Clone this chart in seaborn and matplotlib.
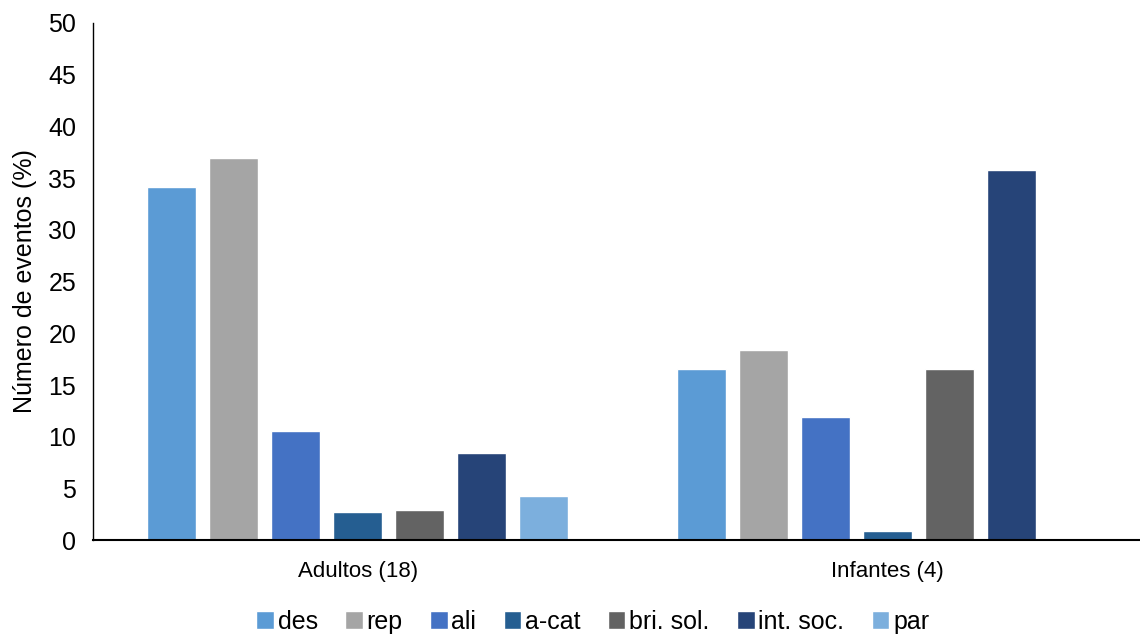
import numpy as np
import pandas as pd
import seaborn as sns
import matplotlib.pyplot as plt
from matplotlib.patches import Patch

# Datos
grupos = ["Adultos (18)", "Infantes (4)"]
categorias = ["des", "rep", "ali", "a-cat", "bri. sol.", "int. soc.", "par"]
adultos = [34.1, 36.9, 10.6, 2.7, 2.9, 8.4, 4.3]
infantes = [16.5, 18.4, 11.9, 0.9, 16.5, 35.8, np.nan]
colores = ["#5B9BD5", "#A5A5A5", "#4472C4", "#255E91", "#636363", "#264478", "#7CAFDD"]

df = pd.DataFrame({
    "grupo": [grupos[0]] * len(categorias) + [grupos[1]] * len(categorias),
    "evento": categorias * 2,
    "valor": adultos + infantes,
}).dropna()

sns.set_style("white")
plt.rcParams["font.family"] = ["Liberation Sans", "DejaVu Sans"]
plt.rcParams["text.color"] = "black"
plt.rcParams["axes.labelcolor"] = "black"
plt.rcParams["xtick.color"] = "black"
plt.rcParams["ytick.color"] = "black"

fig = plt.figure(figsize=(11.4, 6.37), dpi=100)
ax = fig.add_axes([0.0816, 0.152, 0.929, 0.812])

sns.barplot(data=df, x="grupo", y="valor", hue="evento", order=grupos,
            hue_order=categorias, palette=colores, width=0.82, gap=0.21,
            saturation=1, legend=False, ax=ax)

ax.set_ylim(0, 50)
ax.set_yticks(range(0, 51, 5))
ax.set_xlim(-0.5, 1.5)
ax.set_xlabel("")
ax.set_ylabel("Número de eventos (%)", fontsize=18, labelpad=8)
ax.tick_params(axis="y", labelsize=18, length=0, pad=12)
ax.tick_params(axis="x", labelsize=16, length=0, pad=15)
for s in ["top", "right"]:
    ax.spines[s].set_visible(False)
ax.spines["left"].set_color("#000000")
ax.spines["left"].set_linewidth(1)
ax.spines["bottom"].set_color("#000000")
ax.spines["bottom"].set_linewidth(1.5)

handles = [Patch(facecolor=c, label=l) for c, l in zip(colores, categorias)]
fig.legend(handles=handles, loc="lower center", bbox_to_anchor=(0.52, -0.03),
           ncol=7, frameon=False, fontsize=18, handlelength=0.7,
           handleheight=0.7, handletextpad=0.15, columnspacing=1.1)

fig.savefig("out.png", dpi=100)
